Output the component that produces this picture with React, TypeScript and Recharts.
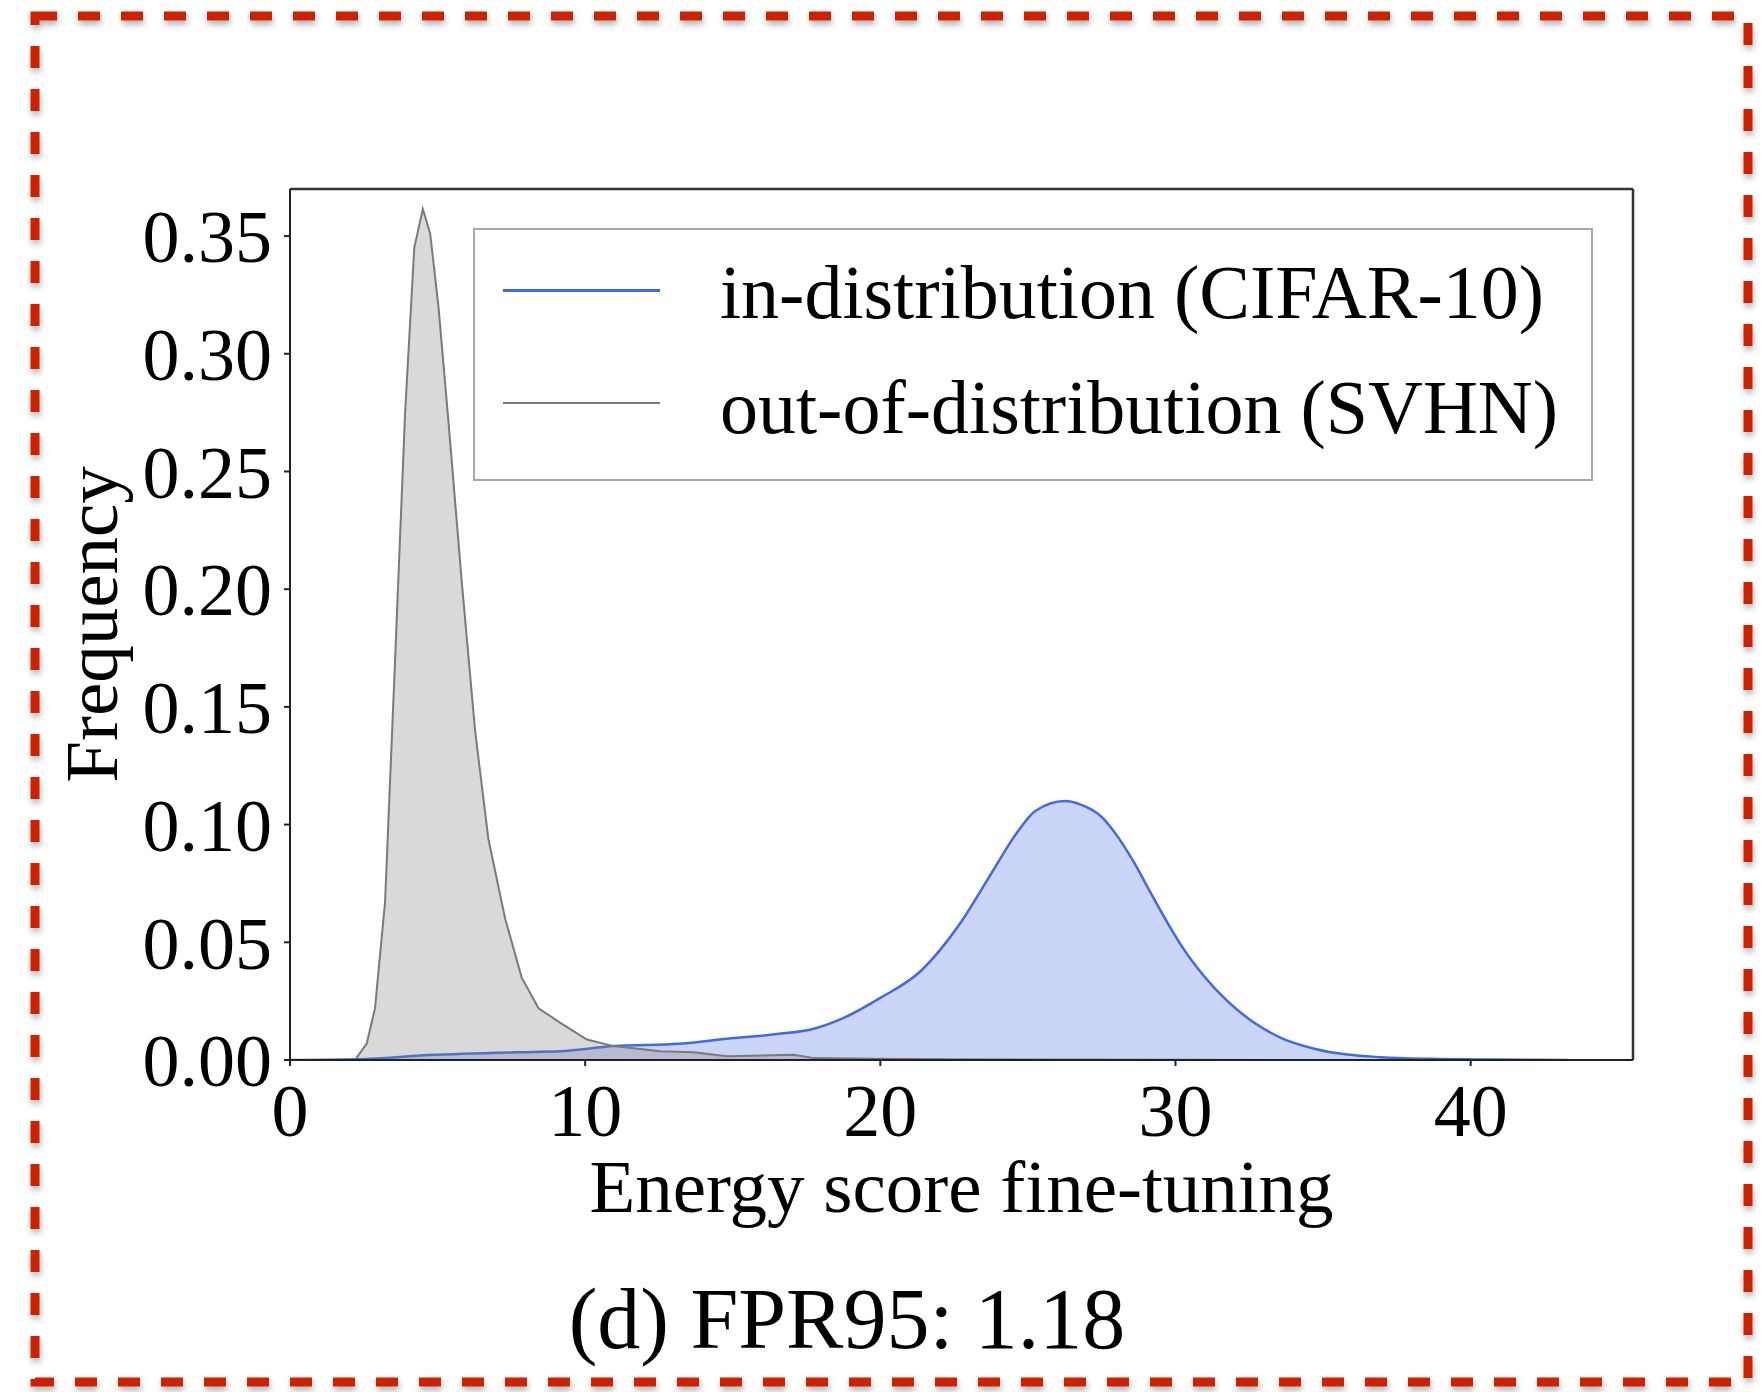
import { AreaChart, Area, XAxis, YAxis, Legend, ReferenceLine } from 'recharts';

const SERIF = '"Liberation Serif", "DejaVu Serif", serif';

// in-distribution (CIFAR-10): energy score vs. frequency
const ID_SCORE = [0, 2.3, 4.7, 7.7, 9.16, 10.96, 13.22, 14.81, 16.5, 17.75, 18.76, 20.0, 21.36, 22.04, 22.72, 23.7, 24.67, 25.25, 26.26, 26.79, 27.47, 28.03, 28.6, 29.16, 29.73, 30.29, 30.97, 31.76, 32.67, 33.57, 34.7, 35.82, 36.96, 38.66, 40.6, 43.3];
const ID_FREQ = [0, 0.0003, 0.0021, 0.0033, 0.0037, 0.0059, 0.0069, 0.009, 0.011, 0.0133, 0.0179, 0.0264, 0.0377, 0.047, 0.0583, 0.078, 0.0973, 0.1058, 0.11, 0.1085, 0.1036, 0.0951, 0.0838, 0.071, 0.0583, 0.0469, 0.0356, 0.025, 0.0158, 0.0094, 0.0048, 0.0023, 0.0012, 0.0005, 0.0002, 0];

// out-of-distribution (SVHN)
const OOD_SCORE = [0, 1, 2.2, 2.6, 2.88, 3.22, 3.56, 3.9, 4.21, 4.5, 4.75, 5.03, 5.37, 5.82, 6.27, 6.72, 7.29, 7.85, 8.42, 9.16, 10.06, 10.96, 12.55, 13.68, 14.8, 17.07, 17.75, 19.8, 22.05, 25.05, 30.05, 35.05, 43.35];
const OOD_FREQ = [0, 0, 0, 0.007, 0.022, 0.067, 0.17, 0.275, 0.345, 0.3615, 0.351, 0.32, 0.271, 0.203, 0.14, 0.094, 0.06, 0.035, 0.022, 0.0158, 0.0087, 0.0059, 0.0037, 0.0033, 0.0016, 0.0022, 0.0008, 0.0005, 0.0003, 0.0002, 0.0001, 0, 0];

const SERIES_NAMES = ['in-distribution (CIFAR-10)', 'out-of-distribution (SVHN)'];
const X_TICKS = [0, 10, 20, 30, 40];
const Y_TICKS = [0, 0.05, 0.1, 0.15, 0.2, 0.25, 0.3, 0.35];
const X_MAX = 45.5;
const Y_MAX = 0.37;

type Row = { score: number; id?: number; ood?: number };

const rowsByScore = new Map<number, Row>();
ID_SCORE.forEach((s, i) => {
    const r = rowsByScore.get(s) ?? { score: s };
    r.id = ID_FREQ[i];
    rowsByScore.set(s, r);
});
OOD_SCORE.forEach((s, i) => {
    const r = rowsByScore.get(s) ?? { score: s };
    r.ood = OOD_FREQ[i];
    rowsByScore.set(s, r);
});
const rows = [...rowsByScore.values()].sort((a, b) => a.score - b.score);

const LegendBox = ({ payload }: any) => (
    <div style={{
        position: 'relative', width: 1116, height: 249, border: '2px solid #a8a8a8',
        background: '#fff', fontFamily: SERIF, color: '#000'
    }}>
        {(payload ?? []).map((item: any, i: number) => (
            <div key={`legend-${i}`}>
                <div style={{
                    position: 'absolute', left: 28, top: 59 + i * 113, width: 157,
                    height: i === 0 ? 3 : 2, background: item.color
                }}/>
                <div style={{
                    position: 'absolute', left: 245, top: 24 + i * 115, fontSize: 76,
                    lineHeight: '76px', whiteSpace: 'nowrap'
                }}>{item.value}</div>
            </div>
        ))}
    </div>
);

const axisText = { fill: '#000', fontSize: 74, fontFamily: SERIF };

const App = () => (
    <div style={{ position: 'absolute', left: 0, top: 0, width: 1763, height: 1392, background: '#fff' }}>
        <AreaChart
            width={1763}
            height={1392}
            data={rows}
            margin={{ top: 189, right: 130, bottom: 272, left: 120 }}
        >
            <XAxis
                dataKey='score'
                type='number'
                domain={[0, X_MAX]}
                ticks={X_TICKS}
                allowDataOverflow
                height={60}
                stroke='#222'
                strokeWidth={2}
                tickSize={6}
                tickMargin={17}
                tick={axisText}
                label={{
                    content: ({ viewBox }: any) => (
                        <text x={viewBox.x + viewBox.width / 2} y={viewBox.y + 152} textAnchor='middle'
                              fontFamily={SERIF} fontSize={75} fill='#000'>Energy score fine-tuning</text>
                    )
                }}
            />
            <YAxis
                type='number'
                domain={[0, Y_MAX]}
                ticks={Y_TICKS}
                allowDataOverflow
                width={170}
                stroke='#222'
                strokeWidth={2}
                tickSize={6}
                tickMargin={12}
                tick={axisText}
                tickFormatter={(v: number) => v.toFixed(2)}
                label={{
                    content: ({ viewBox }: any) => {
                        const x = viewBox.x - 3;
                        const y = viewBox.y + viewBox.height / 2;
                        return (
                            <text x={x} y={y} transform={`rotate(-90 ${x} ${y})`} textAnchor='middle'
                                  fontFamily={SERIF} fontSize={75} fill='#000'>Frequency</text>
                        );
                    }
                }}
            />
            {/* close the frame on top and right */}
            <ReferenceLine y={Y_MAX} stroke='#333' strokeWidth={2.5}/>
            <ReferenceLine x={X_MAX} stroke='#333' strokeWidth={2.5}/>
            <Area
                type='monotone'
                dataKey='id'
                name={SERIES_NAMES[0]}
                stroke='#4169e1'
                strokeWidth={2.5}
                fill='#4169e1'
                fillOpacity={0.28}
                connectNulls
                dot={false}
                activeDot={false}
                isAnimationActive={false}
            />
            <Area
                type='linear'
                dataKey='ood'
                name={SERIES_NAMES[1]}
                stroke='#7a7a7a'
                strokeWidth={2}
                fill='#808080'
                fillOpacity={0.3}
                connectNulls
                dot={false}
                activeDot={false}
                isAnimationActive={false}
            />
            <Legend
                layout='horizontal'
                verticalAlign='middle'
                align='center'
                content={LegendBox}
                wrapperStyle={{ left: 473, top: 228, width: 1120, height: 253 }}
            />
        </AreaChart>
        <svg width={1763} height={1392} style={{ position: 'absolute', left: 0, top: 0, pointerEvents: 'none' }}>
            <defs>
                <filter id='dashShadow' x='-5%' y='-5%' width='110%' height='110%'>
                    <feDropShadow dx='1' dy='4' stdDeviation='3' floodColor='#000' floodOpacity='0.3'/>
                </filter>
            </defs>
            <rect x={35} y={16} width={1713} height={1366} fill='none' stroke='#cc2200'
                  strokeWidth={9} strokeDasharray='22 21' filter='url(#dashShadow)'/>
            <text x={847} y={1348} textAnchor='middle' fontFamily={SERIF} fontSize={86}
                  fill='#000'>(d) FPR95: 1.18</text>
        </svg>
    </div>
);

export default App;
